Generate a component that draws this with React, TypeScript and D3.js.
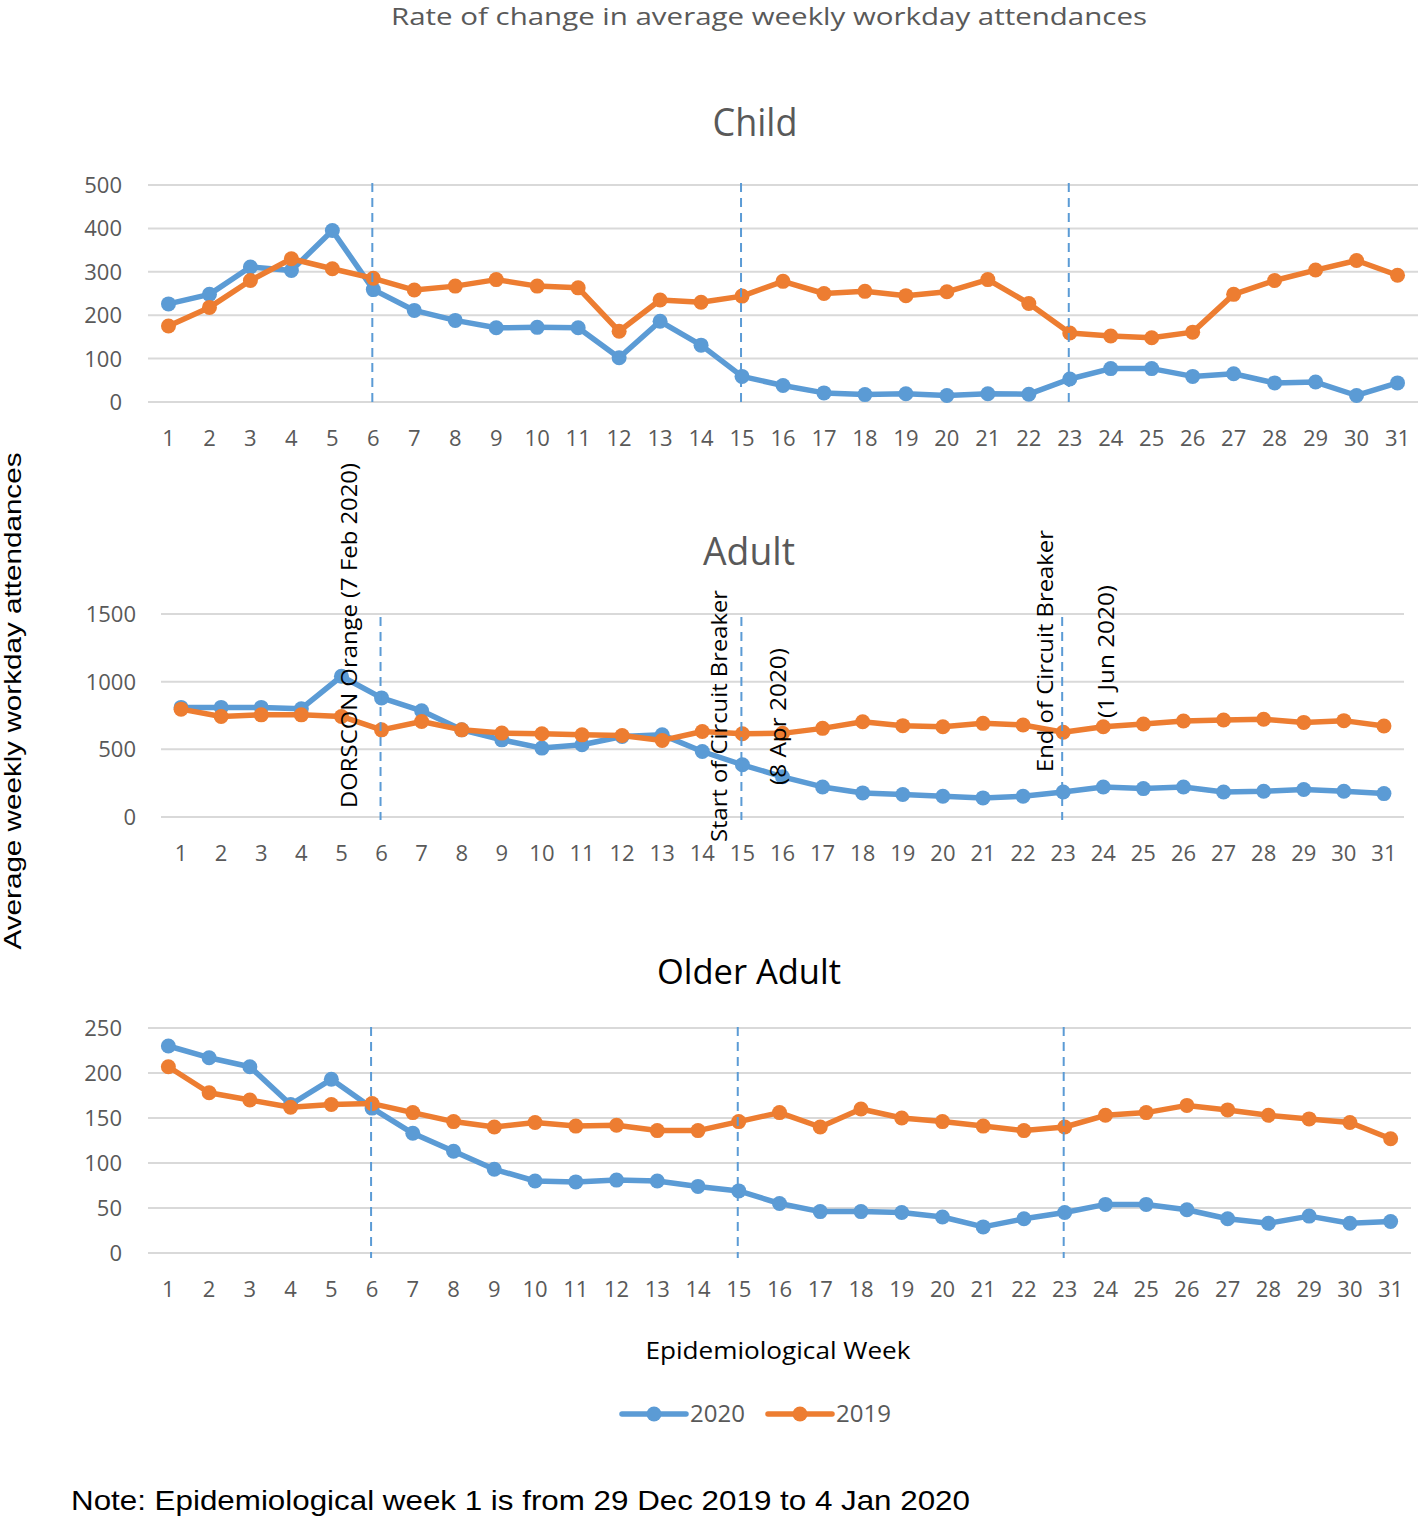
import React from "react";
import * as d3 from "d3";

const weeks = [1,2,3,4,5,6,7,8,9,10,11,12,13,14,15,16,17,18,19,20,21,22,23,24,25,26,27,28,29,30,31];

const child2020 = [226,248,311,303,395,259,211,188,171,172,171,102,186,131,59,38,21,17,19,15,19,18,53,77,77,59,65,44,46,15,44];
const child2019 = [175,218,280,330,307,285,258,267,282,267,263,163,235,230,244,278,250,255,245,254,282,227,159,152,148,161,248,280,304,326,292];

const adult2020 = [810,810,810,800,1040,880,785,644,570,509,534,595,607,484,386,297,222,178,166,153,141,153,185,222,210,222,185,190,203,190,173];
const adult2019 = [797,743,755,755,743,644,706,644,620,615,607,602,566,632,615,618,655,704,675,667,692,680,626,667,687,709,717,722,699,712,672];

const older2020 = [230,217,207,165,193,161,133,113,93,80,79,81,80,74,69,55,46,46,45,40,29,38,45,54,54,48,38,33,41,33,35];
const older2019 = [207,178,170,162,165,166,156,146,140,145,141,142,136,136,146,156,140,160,150,146,141,136,140,153,156,164,159,153,149,145,127];

const childTicks = [0,100,200,300,400,500];
const adultTicks = [0,500,1000,1500];
const olderTicks = [0,50,100,150,200,250];

const eventWeeks = [6,15,23];
const seriesNames = ["2020","2019"];

const BLUE = "#5B9BD5";
const ORANGE = "#ED7D31";
const GRID = "#D9D9D9";
const TICK = "#595959";
const AXFONT = "'Open Sans', 'DejaVu Sans', sans-serif";

type PanelProps = {
  xr: [number, number];
  yr: [number, number];
  max: number;
  ticks: number[];
  s2020: number[];
  s2019: number[];
  labelRight: number;
  xLabelY: number;
  dashY: [number, number];
};

function Panel(p: PanelProps) {
  const x = d3.scaleBand<number>().domain(weeks).range(p.xr);
  const cx = (w: number) => (x(w) as number) + x.bandwidth() / 2;
  const y = d3.scaleLinear().domain([0, p.max]).range(p.yr);
  const line = d3.line<number>().x((_, i) => cx(weeks[i])).y((d) => y(d));
  const series = [
    { name: seriesNames[0], vals: p.s2020, color: BLUE },
    { name: seriesNames[1], vals: p.s2019, color: ORANGE },
  ];
  return (
    <g>
      {p.ticks.map((t) => (
        <g key={t}>
          <line x1={p.xr[0]} x2={p.xr[1]} y1={y(t)} y2={y(t)} stroke={GRID} strokeWidth={2} />
          <text x={p.labelRight} y={y(t) + 8} textAnchor="end" fontSize={22} fill={TICK} fontFamily={AXFONT}>{t}</text>
        </g>
      ))}
      {weeks.map((w) => (
        <text key={w} x={cx(w)} y={p.xLabelY} textAnchor="middle" fontSize={22} fill={TICK} fontFamily={AXFONT}>{w}</text>
      ))}
      {series.map((s) => (
        <g key={s.name}>
          <path d={line(s.vals) || ""} fill="none" stroke={s.color} strokeWidth={5.5} strokeLinejoin="round" />
          {s.vals.map((v, i) => (
            <circle key={i} cx={cx(weeks[i])} cy={y(v)} r={7.5} fill={s.color} />
          ))}
        </g>
      ))}
      {eventWeeks.map((w) => (
        <line key={w} x1={cx(w) - 1} x2={cx(w) - 1} y1={p.dashY[0]} y2={p.dashY[1]} stroke={BLUE} strokeWidth={2} strokeDasharray="9,6" />
      ))}
    </g>
  );
}

export default function App() {
  const ann = (txt: string, bx: number, by: number, len: number) => (
    <text transform={`translate(${bx},${by}) rotate(-90)`} fontSize={22} fill="#000" fontFamily={AXFONT} textLength={len} lengthAdjust="spacingAndGlyphs">{txt}</text>
  );
  return (
    <div style={{ position: "absolute", left: 0, top: 0 }}>
      <svg width={1418} height={1517} style={{ display: "block", background: "#fff" }}>
        <text x={769} y={25} textAnchor="middle" fontSize={23} fill={TICK} fontFamily={AXFONT} textLength={756} lengthAdjust="spacingAndGlyphs">Rate of change in average weekly workday attendances</text>

        <text x={755} y={136} textAnchor="middle" fontSize={38} fill={TICK} fontFamily={AXFONT} textLength={85} lengthAdjust="spacingAndGlyphs">Child</text>
        <Panel xr={[148, 1418]} yr={[402, 185]} max={500} ticks={childTicks} s2020={child2020} s2019={child2019} labelRight={122} xLabelY={446} dashY={[183, 404]} />

        <text x={749} y={565} textAnchor="middle" fontSize={38} fill={TICK} fontFamily={AXFONT} textLength={92} lengthAdjust="spacingAndGlyphs">Adult</text>
        <Panel xr={[161, 1404]} yr={[817, 614]} max={1500} ticks={adultTicks} s2020={adult2020} s2019={adult2019} labelRight={136} xLabelY={861} dashY={[617, 820]} />

        <text x={749} y={984} textAnchor="middle" fontSize={34} fill="#000" fontFamily={AXFONT} textLength={184} lengthAdjust="spacingAndGlyphs">Older Adult</text>
        <Panel xr={[148, 1411]} yr={[1253, 1028]} max={250} ticks={olderTicks} s2020={older2020} s2019={older2019} labelRight={122} xLabelY={1297} dashY={[1027, 1258]} />

        {ann("DORSCON Orange (7 Feb 2020)", 357, 808, 345)}
        {ann("Start of Circuit Breaker", 727, 842, 252)}
        {ann("(8 Apr 2020)", 786, 785, 137)}
        {ann("End of Circuit Breaker", 1053, 772, 242)}
        {ann("(1 Jun 2020)", 1114, 718, 133)}

        <text transform="translate(21,701) rotate(-90)" textAnchor="middle" fontSize={24} fill="#000" fontFamily="'Liberation Sans', Arial, sans-serif" textLength={497} lengthAdjust="spacingAndGlyphs">Average weekly workday attendances</text>

        <text x={778} y={1359} textAnchor="middle" fontSize={24} fill="#000" fontFamily={AXFONT} textLength={265} lengthAdjust="spacingAndGlyphs">Epidemiological Week</text>

        <g>
          <line x1={622} x2={686} y1={1414} y2={1414} stroke={BLUE} strokeWidth={5.5} strokeLinecap="round" />
          <circle cx={654} cy={1414} r={7.5} fill={BLUE} />
          <text x={690} y={1422} fontSize={24} fill={TICK} fontFamily={AXFONT}>{seriesNames[0]}</text>
          <line x1={768} x2={832} y1={1414} y2={1414} stroke={ORANGE} strokeWidth={5.5} strokeLinecap="round" />
          <circle cx={800} cy={1414} r={7.5} fill={ORANGE} />
          <text x={836} y={1422} fontSize={24} fill={TICK} fontFamily={AXFONT}>{seriesNames[1]}</text>
        </g>

        <text x={71} y={1510} fontSize={28} fill="#000" fontFamily="'Liberation Sans', Arial, sans-serif" textLength={899} lengthAdjust="spacingAndGlyphs">Note: Epidemiological week 1 is from 29 Dec 2019 to 4 Jan 2020</text>
      </svg>
    </div>
  );
}
